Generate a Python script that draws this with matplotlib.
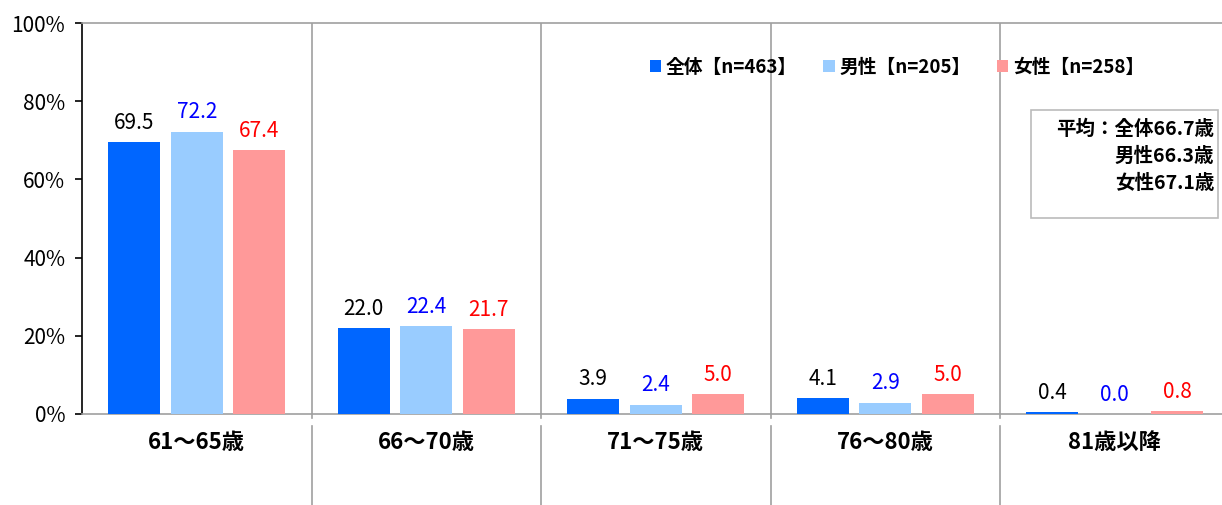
import matplotlib
matplotlib.use("Agg")
import matplotlib.pyplot as plt
from matplotlib.patches import Patch, Rectangle
from matplotlib.lines import Line2D
import numpy as np

plt.rcParams["font.family"] = ["Noto Sans CJK JP", "DejaVu Sans"]

# ── データ ──
CATEGORIES = ["61～65歳", "66～70歳", "71～75歳", "76～80歳", "81歳以降"]
SERIES = ["全体【n=463】", "男性【n=205】", "女性【n=258】"]
ALL = [69.5, 22.0, 3.9, 4.1, 0.4]
MALE = [72.2, 22.4, 2.4, 2.9, 0.0]
FEMALE = [67.4, 21.7, 5.0, 5.0, 0.8]
MEAN_TEXT = "平均：全体66.7歳\n男性66.3歳\n女性67.1歳"

BAR_COLORS = ["#0066FF", "#99CCFF", "#FF9999"]
LABEL_COLORS = ["#000000", "#0000FF", "#FF0000"]
GRID = "#A0A0A0"

W, H = 1222, 505
fig = plt.figure(figsize=(W / 100, H / 100), dpi=100)
ax = fig.add_axes([82 / W, (H - 414) / H, 5 * 229.5 / W, 391 / H])

x = np.arange(len(CATEGORIES))
bw = 0.227
step = 0.272
for i, vals in enumerate([ALL, MALE, FEMALE]):
    bars = ax.bar(x + (i - 1) * step, vals, bw, color=BAR_COLORS[i], zorder=3)
    for b, v in zip(bars, vals):
        ax.annotate(f"{v:.1f}", (b.get_x() + b.get_width() / 2, v),
                    textcoords="offset points", xytext=(0, 6),
                    ha="center", va="bottom", fontsize=15,
                    color=LABEL_COLORS[i])

ax.set_xlim(-0.5, 4.5)
ax.set_ylim(0, 100)
ax.set_yticks(range(0, 101, 20))
ax.set_yticklabels([f"{v}%" for v in range(0, 101, 20)], fontsize=15)
ax.set_xticks(x)
ax.set_xticklabels(CATEGORIES, fontsize=16, fontweight="bold")
ax.tick_params(axis="x", length=0, pad=12)
ax.tick_params(axis="y", length=5, width=1.2, color="black", pad=7)

ax.spines["left"].set_color("black")
ax.spines["left"].set_linewidth(1.2)
for s in ["top", "bottom"]:
    ax.spines[s].set_color(GRID)
    ax.spines[s].set_linewidth(1.2)
ax.spines["right"].set_visible(False)

# 区切り線
for d in x[:-1] + 0.5:
    ax.axvline(d, color=GRID, lw=1.2, zorder=1)
    ax.add_line(Line2D([d, d], [-0.01, 0], color=GRID, lw=1.2,
                       transform=ax.get_xaxis_transform(), clip_on=False))
    ax.add_line(Line2D([d, d], [-0.03, -0.25], color=GRID, lw=1.2,
                       transform=ax.get_xaxis_transform(), clip_on=False))

# 凡例
handles = [Patch(facecolor=c, edgecolor="none") for c in BAR_COLORS]
leg = fig.legend(handles, SERIES, loc="center", ncol=3,
                 bbox_to_anchor=(897 / W, 1 - 67 / H), frameon=False,
                 handlelength=0.6, handleheight=0.6, handletextpad=0.25,
                 columnspacing=1.4, prop={"size": 13.5, "weight": "bold"})

# 平均ボックス
fig.patches.append(Rectangle((1031 / W, 1 - 218 / H), 187 / W, 108 / H,
                             transform=fig.transFigure, facecolor="white",
                             edgecolor="#BBBBBB", lw=1.2, zorder=5))
fig.text(1214 / W, 1 - 120 / H, MEAN_TEXT, ha="right", va="top",
         fontsize=14, fontweight="bold", linespacing=1.5, zorder=6)

fig.savefig("out.png", dpi=100, facecolor="white")
